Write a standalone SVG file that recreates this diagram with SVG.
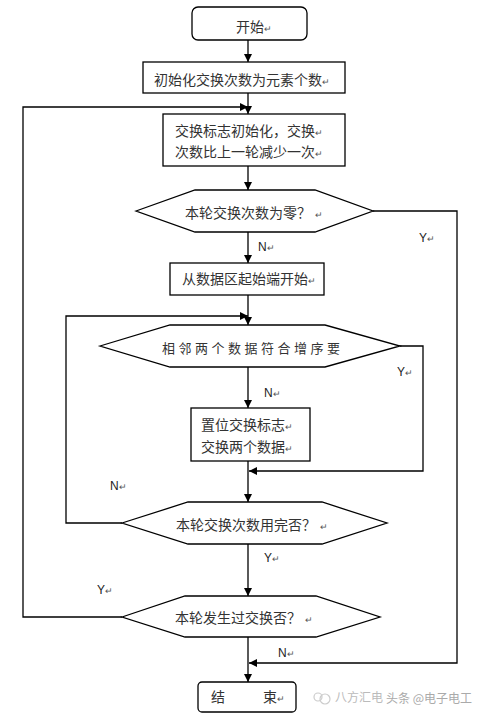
<svg xmlns="http://www.w3.org/2000/svg" width="484" height="721" viewBox="0 0 484 721">
<style>
.box{fill:#fff;stroke:#000;stroke-width:1.3}
.ln{fill:none;stroke:#000;stroke-width:1.3}
.arr{marker-end:url(#ah)}
.t{font-family:"Liberation Serif","Noto Sans CJK SC",serif;font-size:14px;fill:#333}
.l{font-family:"Liberation Sans",Arial,sans-serif;font-size:12px;fill:#222}
.r{font-size:9px;fill:#555}
.wm{font-family:"Noto Sans CJK SC",sans-serif;font-size:12px;fill:#bbb}
</style>
<defs>
<marker id="ah" viewBox="0 0 10 10" refX="10" refY="5" markerWidth="8" markerHeight="8" markerUnits="userSpaceOnUse" orient="auto">
<path d="M0,0 L10,5 L0,10 Z" fill="#000"/>
</marker>
</defs>
<rect width="484" height="721" fill="#fff"/>
<g id="connectors">
<line class="ln arr" x1="248" y1="40" x2="248" y2="62"/>
<line class="ln arr" x1="248" y1="93" x2="248" y2="114"/>
<polyline class="ln arr" points="122,617 23,617 23,107 248,107"/>
<line class="ln arr" x1="248" y1="166" x2="248" y2="190"/>
<polyline class="ln arr" points="373,211 457,211 457,663 249,663"/>
<line class="ln arr" x1="248" y1="232" x2="248" y2="263"/>
<line class="ln arr" x1="248" y1="295" x2="248" y2="325"/>
<polyline class="ln arr" points="122,523 66,523 66,316 248,316"/>
<polyline class="ln arr" points="400,346 423,346 423,471 249,471"/>
<line class="ln arr" x1="248" y1="367" x2="248" y2="408"/>
<line class="ln arr" x1="248" y1="461" x2="248" y2="502"/>
<line class="ln arr" x1="248" y1="544" x2="248" y2="596"/>
<line class="ln arr" x1="248" y1="637" x2="248" y2="682"/>
<text class="l" x="258" y="251">N<tspan class="r">↵</tspan></text>
<text class="l" x="419" y="242">Y<tspan class="r">↵</tspan></text>
<text class="l" x="397" y="376">Y<tspan class="r">↵</tspan></text>
<text class="l" x="264" y="397">N<tspan class="r">↵</tspan></text>
<text class="l" x="110" y="490">N<tspan class="r">↵</tspan></text>
<text class="l" x="264" y="562">Y<tspan class="r">↵</tspan></text>
<text class="l" x="97" y="594">Y<tspan class="r">↵</tspan></text>
<text class="l" x="278" y="657">N<tspan class="r">↵</tspan></text>
</g>
<g id="start">
<rect class="box" x="192" y="7" width="115" height="33" rx="6"/>
<text class="t" x="236" y="32">开始<tspan class="r">↵</tspan></text>
</g>
<g id="init">
<rect class="box" x="143" y="62" width="202" height="31"/>
<text class="t" x="154" y="85">初始化交换次数为元素个数<tspan class="r">↵</tspan></text>
</g>
<g id="reset">
<rect class="box" x="163" y="114" width="182" height="52"/>
<text class="t" x="175" y="136">交换标志初始化，交换<tspan class="r">↵</tspan></text>
<text class="t" x="175" y="157">次数比上一轮减少一次<tspan class="r">↵</tspan></text>
</g>
<g id="zero">
<polygon class="box" points="136,211 195,190 315,190 373,211 315,232 195,232"/>
<text class="t" x="185" y="218">本轮交换次数为零？ <tspan class="r">↵</tspan></text>
</g>
<g id="from-start">
<rect class="box" x="170" y="263" width="154" height="32"/>
<text class="t" x="182" y="284">从数据区起始端开始<tspan class="r">↵</tspan></text>
</g>
<g id="order">
<polygon class="box" points="100,346 170,325 325,325 400,346 325,367 170,367"/>
<text class="t" x="162" y="353" style="font-size:13px;letter-spacing:3.5px">相邻两个数据符合增序要</text>
</g>
<g id="swap">
<rect class="box" x="191" y="408" width="119" height="53"/>
<text class="t" x="201" y="430">置位交换标志<tspan class="r">↵</tspan></text>
<text class="t" x="201" y="452">交换两个数据<tspan class="r">↵</tspan></text>
</g>
<g id="used-up">
<polygon class="box" points="122,523 188,502 322,502 387,523 322,544 188,544"/>
<text class="t" x="176" y="530">本轮交换次数用完否？ <tspan class="r">↵</tspan></text>
</g>
<g id="swapped">
<polygon class="box" points="122,617 185,596 316,596 380,617 316,637 185,637"/>
<text class="t" x="175" y="623">本轮发生过交换否？ <tspan class="r">↵</tspan></text>
</g>
<g id="end">
<rect class="box" x="198" y="682" width="98" height="30" rx="4"/>
<text class="t" x="211" y="702">结</text>
<text class="t" x="263" y="702">束<tspan class="r">↵</tspan></text>
</g>
<g id="watermark">
<circle cx="318" cy="697" r="4" fill="none" stroke="#ccc" stroke-width="1.2"/>
<circle cx="325" cy="699" r="5" fill="none" stroke="#ccc" stroke-width="1.2"/>
<text class="wm" x="335" y="702">八方汇电</text>
<text class="wm" x="386" y="703" style="fill:#aaa">头条 @电子电工</text>
</g>
</svg>
